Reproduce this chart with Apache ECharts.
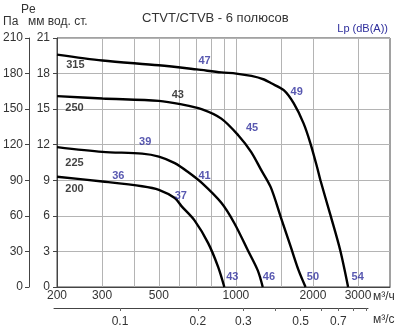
<!DOCTYPE html>
<html><head><meta charset="utf-8">
<script src="https://cdn.jsdelivr.net/npm/echarts@6/dist/echarts.min.js"></script>
<style>html,body{margin:0;padding:0;background:#fff}#c{width:400px;height:331px}</style>
</head><body><div id="c"></div>
<script>
// flow in m³/h, pressure in Pa
const flowGrid = [300,400,500,600,700,800,900,1000,1500,2000,3000];
const flowLabels = [200,300,500,1000,2000,3000];
const secTicks = [0.1,0.2,0.3,0.4,0.5,0.6,0.7,0.8,0.9];
const secLabels = [0.1,0.2,0.3,0.5,0.7];
const sizes = ['315','250','225','200'];
const curve315 = [[200,196],[301,191],[500,187],[703,183.5],[877,181],[1003,180],[1150,178],[1288,175],[1369,172],[1538,166],[1681,155],[1838,138],[1956,121],[2076,101],[2139,90],[2338,61],[2556,31],[2744,0]];
const curve250 = [[200,161],[301,159],[500,157],[614,154],[734,150],[877,142],[1021,128],[1146,114],[1253,99],[1369,84],[1497,59],[1637,34],[1758,14],[1871,0]];
const curve225 = [[200,118],[301,114],[430,112.5],[500,110],[577,104.5],[650,97],[734,88],[877,71],[985,54],[1113,31],[1217,14],[1273,0]];
const curve200 = [[200,93],[301,89],[430,85],[500,82],[577,75],[614,68],[690,56],[779,37],[852,17],[901,0]];
const sizeLabels = [[236,187,'315'],[234,151,'250'],[593,162,'43'],[234,105,'225'],[234,82.6,'200']];
const dbLabels = [[754,191,'47'],[1727,164.5,'49'],[1156,134,'45'],[442,122.7,'39'],[754,93.6,'41'],[347,93.6,'36'],[609,76.7,'37'],[968,8.4,'43'],[1346,8.4,'46'],[2000,8.4,'50'],[2990,8.4,'54']];
const yTicksPa = {min:0,max:210,interval:30};
const yTicksMm = {min:0,max:21,interval:3};

const FONT = 'Liberation Sans, Arial, sans-serif';
const BLUE = '#2e2e9c';
const GRID = '#b4b4b4';
const curves = [curve315, curve250, curve225, curve200];

const chart = echarts.init(document.getElementById('c'), null, {renderer:'canvas'});
chart.setOption({
  animation:false,
  backgroundColor:'#fff',
  textStyle:{fontFamily:FONT},
  grid:[
    {left:54,right:10,top:38,bottom:44,show:true,borderColor:'#444',borderWidth:1},
    {left:54,right:32,top:38,bottom:44,show:false}
  ],
  xAxis:[
    {type:'log',gridIndex:0,min:200,max:4000,position:'bottom',
     axisLine:{show:true,onZero:false,lineStyle:{color:'#444'}},
     axisTick:{show:false},
     axisLabel:{customValues:flowLabels,formatter:v=>String(Math.round(v)),color:'#333',fontSize:12,margin:3,fontFamily:FONT},
     splitLine:{show:false},minorTick:{show:false},minorSplitLine:{show:false}},
    {type:'log',gridIndex:1,min:200/3600,max:3280/3600,position:'bottom',offset:21,
     axisLine:{show:true,onZero:false,lineStyle:{color:'#444'}},
     axisTick:{show:true,customValues:secTicks,length:3,lineStyle:{color:'#666'}},
     axisLabel:{customValues:secLabels,formatter:v=>String(+v.toFixed(2)),color:'#333',fontSize:12,margin:8,fontFamily:FONT},
     splitLine:{show:false}}
  ],
  yAxis:[
    {type:'value',gridIndex:0,position:'left',offset:0,min:yTicksMm.min,max:yTicksMm.max,interval:yTicksMm.interval,
     axisLine:{show:true,lineStyle:{color:'#444'}},
     axisTick:{show:true,length:4,lineStyle:{color:'#444'}},
     axisLabel:{color:'#333',fontSize:12,margin:7,fontFamily:FONT},
     splitLine:{show:true,lineStyle:{color:GRID,width:1}}},
    {type:'value',gridIndex:0,position:'left',offset:28,min:yTicksPa.min,max:yTicksPa.max,interval:yTicksPa.interval,
     axisLine:{show:true,lineStyle:{color:'#444'}},
     axisTick:{show:true,length:4,lineStyle:{color:'#444'}},
     axisLabel:{color:'#333',fontSize:12,margin:6,fontFamily:FONT},
     splitLine:{show:false}},
    {type:'value',gridIndex:1,show:false,min:0,max:1}
  ],
  series:[
    {type:'custom',xAxisIndex:0,yAxisIndex:1,z:5,
     data:flowGrid.map(v=>[v,yTicksPa.min]),
     encode:{x:0,y:1},
     renderItem:(params,api)=>{
       const v = api.value(0);
       const p0 = api.coord([v,yTicksPa.min]);
       const p1 = api.coord([v,yTicksPa.max]);
       const x = Math.round(p0[0]) + 0.5;
       return {type:'line',shape:{x1:x,y1:p0[1],x2:x,y2:p1[1]},style:{stroke:GRID,lineWidth:1}};
     }},
    ...curves.map((d,i)=>({type:'line',name:sizes[i],xAxisIndex:0,yAxisIndex:1,data:d,smooth:0.3,
      showSymbol:false,symbol:'none',lineStyle:{color:'#000',width:2.4},z:6})),
    {type:'scatter',xAxisIndex:0,yAxisIndex:1,data:sizeLabels,symbolSize:0,z:7,
     label:{show:true,position:'inside',formatter:p=>p.value[2],color:'#111',fontWeight:'bold',fontSize:11,fontFamily:FONT}},
    {type:'scatter',xAxisIndex:0,yAxisIndex:1,data:dbLabels,symbolSize:0,z:7,
     label:{show:true,position:'inside',formatter:p=>p.value[2],color:BLUE,fontWeight:'bold',fontSize:11,fontFamily:FONT}}
  ],
  graphic:[
    {type:'text',left:21,top:4,style:{text:'Pe',fontSize:12,fill:'#333',fontFamily:FONT}},
    {type:'text',left:3,top:16,style:{text:'Па',fontSize:12,fill:'#333',fontFamily:FONT}},
    {type:'text',left:28,top:16,style:{text:'мм вод. ст.',fontSize:12,fill:'#333',fontFamily:FONT}},
    {type:'text',left:142,top:12,style:{text:'CTVT/CTVB - 6 полюсов',fontSize:13,fill:'#333',fontFamily:FONT}},
    {type:'text',right:12,top:23,style:{text:'Lp (dB(A))',fontSize:11,fill:BLUE,fontFamily:FONT}},
    {type:'text',left:373,top:291,style:{text:'м³/ч',fontSize:12,fill:'#333',fontFamily:FONT}},
    {type:'text',left:373,top:314,style:{text:'м³/с',fontSize:12,fill:'#333',fontFamily:FONT}}
  ]
});
</script></body></html>
